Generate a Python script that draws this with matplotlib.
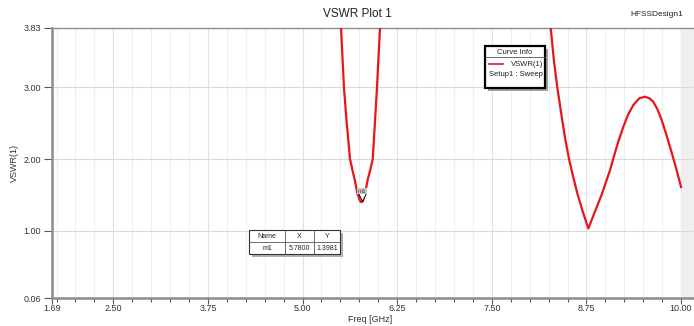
import matplotlib
matplotlib.use("Agg")
import matplotlib.pyplot as plt
import matplotlib.transforms as mtrans
from matplotlib.patches import Rectangle
import numpy as np

plt.rcParams['font.family'] = ['Liberation Sans', 'DejaVu Sans']

# VSWR curve (values above 3.83 are off the plot)
freq = [1.69, 3.0, 4.5, 5.30, 5.40, 5.45, 5.508, 5.547, 5.580, 5.627, 5.66,
        5.689, 5.723, 5.75, 5.762, 5.775, 5.79, 5.80, 5.816, 5.84, 5.86,
        5.895, 5.927, 5.958, 5.983, 6.023, 6.10, 6.30,
        7.0, 7.8, 8.10, 8.20, 8.278, 8.32, 8.365, 8.43, 8.47, 8.52, 8.575,
        8.63, 8.70, 8.775, 8.86, 8.95, 9.06, 9.105, 9.17, 9.237, 9.30,
        9.37, 9.45, 9.524, 9.58, 9.633, 9.69, 9.744, 9.80, 9.854, 9.93, 10.0]
vswr = [20.0, 15.0, 12.0, 8.5, 6.2, 5.0, 3.83, 3.0, 2.545, 2.0, 1.84,
        1.71, 1.53, 1.44, 1.41, 1.398, 1.405, 1.42, 1.50, 1.60, 1.71,
        1.85, 2.0, 2.545, 3.0, 3.83, 5.4, 9.0,
        14.0, 10.0, 6.5, 5.2, 3.83, 3.38, 3.0, 2.545, 2.28, 2.0, 1.75,
        1.52, 1.27, 1.03, 1.26, 1.50, 1.84, 2.01, 2.24, 2.45, 2.62,
        2.755, 2.85, 2.87, 2.85, 2.80, 2.69, 2.545, 2.36, 2.17, 1.89, 1.61]

xticks = [1.69, 2.50, 3.75, 5.00, 6.25, 7.50, 8.75, 10.00]
yticks = [0.06, 1.00, 2.00, 3.00, 3.83]
marker_name = "m1"
marker_x = 5.7800
marker_y = 1.3981

W, H = 694, 326
fig = plt.figure(figsize=(W / 100, H / 100), dpi=100)
ax = fig.add_axes([52 / W, 1 - 298 / H, (W - 52) / W, (298 - 28) / H])

x_end = 1.69 + 642 / 75.7
ax.set_xlim(1.69, x_end)
ax.set_ylim(0.06, 3.83)

# shaded region past the sweep end
ax.axvspan(10.0, x_end, color='#efefef', zorder=0)

minor = [v for v in np.arange(1.75, 10.01, 0.25) if not any(abs(v - t) < 1e-6 for t in xticks)]
ax.set_xticks(xticks)
ax.set_xticklabels(["%.2f" % t for t in xticks])
ax.set_xticks(minor, minor=True)
ax.set_yticks(yticks)
ax.set_yticklabels(["%.2f" % t for t in yticks])

for v in minor:
    ax.axvline(v, color='#efefef', lw=0.8, zorder=0.5)
for v in xticks[1:-1]:
    ax.axvline(v, color='#e0e0e0', lw=0.8, zorder=0.5)
for v in yticks[1:-1]:
    ax.axhline(v, color='#dadada', lw=0.8, zorder=0.5)

ax.tick_params(axis='both', which='both', direction='out', colors='#555555',
               labelcolor='#333333', labelsize=6.5, width=0.8)
ax.tick_params(axis='x', which='major', length=4, pad=0.5)
ax.tick_params(axis='x', which='minor', length=3)
ax.tick_params(axis='y', length=6, pad=2)

for s in ['left', 'bottom']:
    ax.spines[s].set_color('#8c8c8c')
    ax.spines[s].set_linewidth(1.8)
ax.spines['top'].set_color('#8c8c8c')
ax.spines['top'].set_linewidth(1.0)
ax.spines['right'].set_visible(False)

ax.plot(freq, vswr, color='#e8141e', lw=1.6, zorder=3, solid_joinstyle='round')

# marker m1
tri = mtrans.offset_copy(ax.transData, fig=fig, x=0, y=3.5, units='points')
ax.plot([marker_x], [marker_y], marker='v', ms=5.5, mfc='white', mec='black',
        mew=0.7, transform=tri, zorder=4)
ax.annotate(marker_name, (marker_x, marker_y), xytext=(0, 8), textcoords='offset points',
            ha='center', va='center', fontsize=4.5, color='#444444', zorder=5,
            bbox=dict(boxstyle='square,pad=0.1', fc='#c8c8c8', ec='none'))

ax.set_ylabel("VSWR(1)", fontsize=6.5, color='#333333', labelpad=3)
fig.text(370 / W, 1 - 320 / H, "Freq [GHz]", fontsize=6.5, ha='center', va='center', color='#333333')

fig.text(357.5 / W, 1 - 14 / H, "VSWR Plot 1", fontsize=8.5, ha='center', va='center', color='#222222')
fig.text(683 / W, 1 - 15 / H, "HFSSDesign1", fontsize=6, ha='right', va='center', color='#222222')


def px(x, y):
    return x / W, 1 - y / H


# Curve Info box
bx0, by0, bx1, by1 = 485, 46, 545, 88
fig.patches.append(Rectangle(px(bx0 + 3, by1 + 3), (bx1 - bx0) / W, (by1 - by0) / H,
                             transform=fig.transFigure, fc='#a0a0a0', ec='none', zorder=5))
fig.patches.append(Rectangle(px(bx0, by1), (bx1 - bx0) / W, (by1 - by0) / H,
                             transform=fig.transFigure, fc='white', ec='black', lw=1.6, zorder=6))
fig.lines.append(plt.Line2D([px(bx0, 0)[0], px(bx1, 0)[0]], [px(0, 57)[1]] * 2,
                            transform=fig.transFigure, color='#555555', lw=0.6, zorder=7))
fig.text(*px(515, 52), "Curve Info", fontsize=5.5, ha='center', va='center', zorder=8, color='#222222')
fig.lines.append(plt.Line2D([px(489, 0)[0], px(503, 0)[0]], [px(0, 64)[1]] * 2,
                            transform=fig.transFigure, color='#e8141e', lw=1.2, zorder=7))
fig.text(*px(543, 64), "VSWR(1)", fontsize=5.5, ha='right', va='center', zorder=8, color='#222222')
fig.text(*px(543, 74), "Setup1 : Sweep", fontsize=5.5, ha='right', va='center', zorder=8, color='#222222')

# marker table
tx = [249, 285, 314, 340]
ty = [230, 242, 254]
fig.patches.append(Rectangle(px(tx[0] + 3, ty[-1] + 3), (tx[-1] - tx[0]) / W, (ty[-1] - ty[0]) / H,
                             transform=fig.transFigure, fc='#b0b0b0', ec='none', zorder=5))
fig.patches.append(Rectangle(px(tx[0], ty[-1]), (tx[-1] - tx[0]) / W, (ty[-1] - ty[0]) / H,
                             transform=fig.transFigure, fc='white', ec='#333333', lw=0.8, zorder=6))
for x in tx[1:-1]:
    fig.lines.append(plt.Line2D([px(x, 0)[0]] * 2, [px(0, ty[0])[1], px(0, ty[-1])[1]],
                                transform=fig.transFigure, color='#555555', lw=0.6, zorder=7))
fig.lines.append(plt.Line2D([px(tx[0], 0)[0], px(tx[-1], 0)[0]], [px(0, ty[1])[1]] * 2,
                            transform=fig.transFigure, color='#555555', lw=0.6, zorder=7))
rows = [["Name", "X", "Y"], [marker_name, "%.4f" % marker_x, "%.4f" % marker_y]]
for r, row in enumerate(rows):
    for c, txt in enumerate(row):
        fig.text(*px((tx[c] + tx[c + 1]) / 2, (ty[r] + ty[r + 1]) / 2), txt, fontsize=5,
                 ha='center', va='center', zorder=8, color='#222222')

fig.savefig("out.png", dpi=100)
